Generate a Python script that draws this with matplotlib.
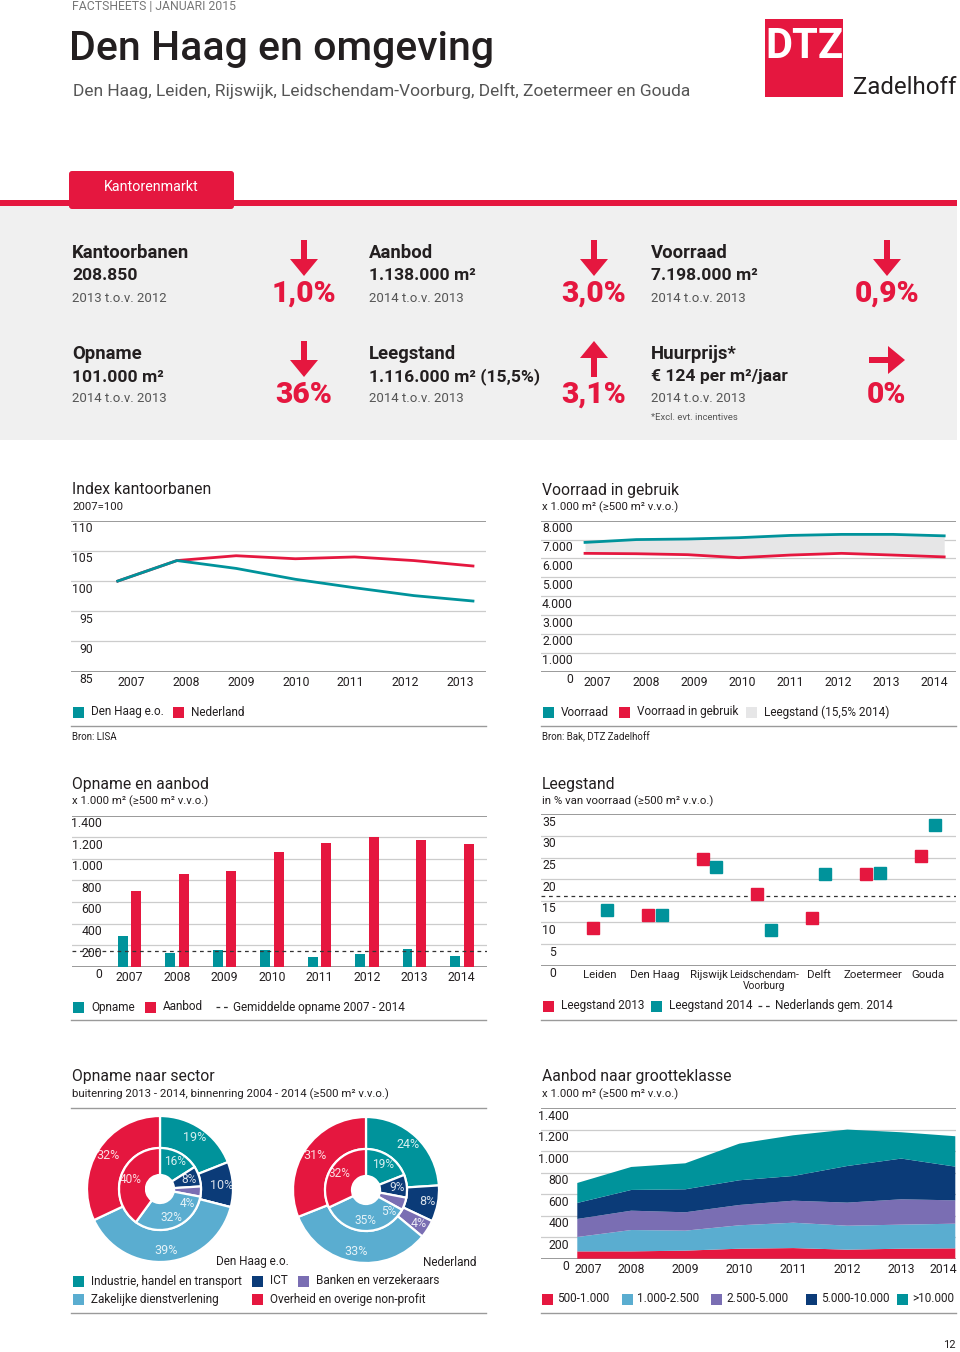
import numpy as np
import matplotlib.pyplot as plt
from matplotlib.patches import Rectangle, FancyArrow, FancyBboxPatch

plt.rcParams['font.family'] = ['Roboto', 'DejaVu Sans']

W, H = 960, 1352
TEAL = '#00939b'
RED = '#e5173f'
NAVY = '#0b3b78'
PURPLE = '#7a6eb3'
LBLUE = '#5aadd0'
LGRAY = '#e6e6e7'
PANEL = '#f0f0f0'
DARK = '#231f20'
MID = '#555555'
GRID = '#cccccc'
EDGE = '#9a9a9a'

# ---- data ----
jaren_idx = ['2007', '2008', '2009', '2010', '2011', '2012', '2013']
index_denhaag = [100, 103.4, 102.1, 100.3, 98.9, 97.6, 96.7]
index_nl = [100, 103.4, 104.2, 103.7, 104.0, 103.4, 102.5]

jaren = ['2007', '2008', '2009', '2010', '2011', '2012', '2013', '2014']
voorraad = [6850, 7000, 7030, 7100, 7220, 7275, 7275, 7198]
voorraad_gebruik = [6270, 6250, 6200, 6040, 6180, 6270, 6180, 6082]

opname = [284, 127, 151, 155, 87, 121, 161, 101]
aanbod = [702, 856, 890, 1063, 1147, 1202, 1175, 1138]
opname_gem = 150

steden = ['Leiden', 'Den Haag', 'Rijswijk', 'Leidschendam-\nVoorburg', 'Delft', 'Zoetermeer', 'Gouda']
leeg_2013 = [8.8, 11.8, 24.6, 16.6, 11.1, 21.2, 25.4]
leeg_2014 = [12.8, 11.8, 22.8, 8.3, 21.2, 21.5, 32.5]
leeg_nl = 16.0

sectoren = ['Industrie, handel en transport', 'ICT', 'Banken en verzekeraars',
            'Zakelijke dienstverlening', 'Overheid en overige non-profit']
dh_buiten = [19, 10, 0, 39, 32]
dh_binnen = [16, 8, 4, 32, 40]
nl_buiten = [24, 8, 4, 33, 31]
nl_binnen = [19, 9, 5, 35, 32]
sector_kleuren = [TEAL, NAVY, PURPLE, LBLUE, RED]

klassen = ['500-1.000', '1.000-2.500', '2.500-5.000', '5.000-10.000', '>10.000']
k_500 = [68, 68, 75, 93, 99, 84, 93, 96]
k_1000 = [134, 199, 186, 218, 236, 223, 224, 230]
k_2500 = [168, 180, 171, 189, 205, 215, 236, 217]
k_5000 = [149, 193, 214, 230, 230, 341, 379, 314]
k_10000 = [186, 214, 242, 341, 379, 339, 245, 283]
klasse_kleuren = [RED, LBLUE, PURPLE, NAVY, TEAL]

fig = plt.figure(figsize=(W / 100, H / 100), dpi=100)
bg = fig.add_axes([0, 0, 1, 1])
bg.set_xlim(0, W)
bg.set_ylim(H, 0)
bg.axis('off')


def add_ax(x0, y0, x1, y1):
    ax = fig.add_axes([x0 / W, 1 - y1 / H, (x1 - x0) / W, (y1 - y0) / H])
    ax.set_facecolor('none')
    for s in ax.spines.values():
        s.set_visible(False)
    ax.tick_params(left=False, labelleft=False, bottom=False)
    return ax


def yaxis(ax, ticks, labels, xr):
    for i, (t, lab) in enumerate(zip(ticks, labels)):
        edge = i == 0 or i == len(ticks) - 1
        ax.axhline(t, color=EDGE if edge else GRID, lw=1.4 if edge else 0.9, zorder=0)
        ax.annotate(lab, xy=(xr, t), xycoords=('axes fraction', 'data'), xytext=(0, -8),
                    textcoords='offset pixels', ha='right', va='center', fontsize=8.8, color=DARK)


def xlabels(ax, pos, labels, pad=3):
    ax.set_xticks(pos, labels)
    ax.tick_params(axis='x', length=0, pad=pad, labelsize=8.8, labelcolor=DARK)


def legend_item(x, y, color, text, sq=11):
    bg.add_patch(Rectangle((x, y - sq / 2), sq, sq, color=color, lw=0))
    bg.text(x + sq + 7, y, text, fontsize=8.5, color=DARK, va='center')


def titles(x, y, title, sub):
    bg.text(x, y, title, fontsize=11.3, color=DARK, va='center')
    bg.text(x, y + 17, sub, fontsize=8.2, color=DARK, va='center')


def arrow(x, y, direction):
    dx, dy = {'down': (0, 36), 'up': (0, -36), 'right': (36, 0)}[direction]
    bg.add_patch(FancyArrow(x - dx / 2, y - dy / 2, dx, dy, width=6, head_width=28,
                            head_length=17, length_includes_head=True, color=RED, lw=0))


# ---- header ----
bg.text(72, 7, 'FACTSHEETS | JANUARI 2015', fontsize=8.8, color='#777777', va='center')
bg.text(69, 49, 'Den Haag en omgeving', fontsize=29.5, fontweight='medium', color=DARK, va='center')
bg.text(73, 91, 'Den Haag, Leiden, Rijswijk, Leidschendam-Voorburg, Delft, Zoetermeer en Gouda',
        fontsize=12.5, color=MID, va='center')
bg.add_patch(Rectangle((765, 19), 78, 78, color=RED, lw=0))
bg.text(804, 46, 'DTZ', fontsize=30, color='white', fontweight='bold', ha='center', va='center')
bg.text(853, 88, 'Zadelhoff', fontsize=17.3, color=DARK, va='center')

bg.add_patch(Rectangle((0, 206), 957, 234, color=PANEL, lw=0))
bg.add_patch(FancyBboxPatch((72, 174), 159, 32, boxstyle='round,pad=3', color=RED, lw=0))
bg.add_patch(Rectangle((0, 200), 957, 6, color=RED, lw=0))
bg.text(104, 187, 'Kantorenmarkt', fontsize=10.3, color='white', va='center')

kpis = [
    (72, 253, 'Kantoorbanen', '208.850', '2013 t.o.v. 2012', 304, '1,0%', 'down'),
    (369, 253, 'Aanbod', '1.138.000 m²', '2014 t.o.v. 2013', 594, '3,0%', 'down'),
    (651, 253, 'Voorraad', '7.198.000 m²', '2014 t.o.v. 2013', 887, '0,9%', 'down'),
    (72, 354, 'Opname', '101.000 m²', '2014 t.o.v. 2013', 304, '36%', 'down'),
    (369, 354, 'Leegstand', '1.116.000 m² (15,5%)', '2014 t.o.v. 2013', 594, '3,1%', 'up'),
    (651, 354, 'Huurprijs*', '€ 124 per m²/jaar', '2014 t.o.v. 2013', 887, '0%', 'right'),
]
for x, y, t, v, s, px, pct, d in kpis:
    bg.text(x, y, t, fontsize=13.3, fontweight='bold', color=DARK, va='center')
    bg.text(x, y + 23, v, fontsize=12.6, fontweight='bold', color=DARK, va='center')
    bg.text(x, y + 45, s, fontsize=9.5, color=MID, va='center')
    bg.text(px, y + 41, pct, fontsize=21.5, fontweight='black', color=RED, ha='center', va='center')
    arrow(px, y + 5 if d != 'right' else y + 6, d)
bg.text(651, 417, '*Excl. evt. incentives', fontsize=6.8, color=MID, va='center')

# ---- Index kantoorbanen ----
titles(72, 490, 'Index kantoorbanen', '2007=100')
ax1 = add_ax(71, 520.7, 486, 671.7)
x7 = np.arange(len(jaren_idx))
ax1.plot(x7, index_nl, color=RED, lw=2)
ax1.plot(x7, index_denhaag, color=TEAL, lw=2)
ax1.set_xlim(-0.789, 6.22)
ax1.set_ylim(85, 110)
yaxis(ax1, [110, 105, 100, 95, 90, 85], ['110', '105', '100', '95', '90', '85'], 0.053)
xlabels(ax1, 0.236 + 0.924 * x7, jaren_idx)
legend_item(73, 712, TEAL, 'Den Haag e.o.')
legend_item(173, 712, RED, 'Nederland')
bg.plot([71, 486], [726, 726], color=EDGE, lw=1)
bg.text(72, 737, 'Bron: LISA', fontsize=7, color=DARK, va='center')

# ---- Voorraad in gebruik ----
titles(542, 490, 'Voorraad in gebruik', 'x 1.000 m² (≥500 m² v.v.o.)')
ax2 = add_ax(541, 520.7, 956, 671.7)
x8 = np.arange(len(jaren))
ax2.fill_between(x8, voorraad_gebruik, voorraad, color=LGRAY, lw=0)
ax2.plot(x8, voorraad, color=TEAL, lw=2)
ax2.plot(x8, voorraad_gebruik, color=RED, lw=2)
ax2.set_xlim(-0.858, 7.23)
ax2.set_ylim(0, 8000)
vt = list(range(8000, -1, -1000))
yaxis(ax2, vt, [f'{v // 1000}.000' if v else '0' for v in vt], 0.077)
xlabels(ax2, 0.248 + 0.9376 * x8, jaren)
legend_item(543, 712, TEAL, 'Voorraad')
legend_item(619, 712, RED, 'Voorraad in gebruik')
legend_item(746, 712, LGRAY, 'Leegstand (15,5% 2014)')
bg.plot([541, 956], [726, 726], color=EDGE, lw=1)
bg.text(542, 737, 'Bron: Bak, DTZ Zadelhoff', fontsize=7, color=DARK, va='center')

# ---- Opname en aanbod ----
titles(72, 784, 'Opname en aanbod', 'x 1.000 m² (≥500 m² v.v.o.)')
ax3 = add_ax(72, 815.7, 486.7, 966.7)
ax3.bar(x8 - 0.143, opname, width=0.21, color=TEAL, zorder=2)
ax3.bar(x8 + 0.143, aanbod, width=0.21, color=RED, zorder=2)
ax3.axhline(opname_gem, color='#333333', lw=0.9, ls=(0, (3, 3)), zorder=3)
ax3.set_xlim(-1.213, 7.526)
ax3.set_ylim(0, 1400)
ot = list(range(1400, -1, -200))
yaxis(ax3, ot, [f'{v:,}'.replace(',', '.') for v in ot], 0.073)
xlabels(ax3, x8, jaren)
legend_item(73, 1007, TEAL, 'Opname')
legend_item(145, 1007, RED, 'Aanbod')
bg.plot([216, 229], [1007, 1007], color='#333333', lw=0.9, ls=(0, (3, 3)))
bg.text(233, 1007, 'Gemiddelde opname 2007 - 2014', fontsize=8.5, color=DARK, va='center')
bg.plot([71, 486], [1020, 1020], color=EDGE, lw=1)

# ---- Leegstand ----
titles(542, 784, 'Leegstand', 'in % van voorraad (≥500 m² v.v.o.)')
ax4 = add_ax(541, 814.3, 956, 965.7)
xs = np.arange(len(steden))
ax4.axhline(leeg_nl, color='#333333', lw=0.9, ls=(0, (3, 3)), zorder=1)
ax4.plot(xs - 0.126, leeg_2013, 's', color=RED, ms=8.8, zorder=3)
ax4.plot(xs + 0.126, leeg_2014, 's', color=TEAL, ms=8.8, zorder=3)
ax4.set_xlim(-1.084, 6.516)
ax4.set_ylim(0, 35)
lt = list(range(35, -1, -5))
yaxis(ax4, lt, [str(v) for v in lt], 0.036)
xlabels(ax4, xs, steden, pad=3)
for lab in ax4.get_xticklabels():
    lab.set_fontsize(8.2)
    if '\n' in lab.get_text():
        lab.set_fontsize(7.4)
        lab.set_linespacing(1.1)
legend_item(543, 1006, RED, 'Leegstand 2013')
legend_item(651, 1006, TEAL, 'Leegstand 2014')
bg.plot([758, 771], [1006, 1006], color='#333333', lw=0.9, ls=(0, (3, 3)))
bg.text(775, 1006, 'Nederlands gem. 2014', fontsize=8.5, color=DARK, va='center')
bg.plot([541, 956], [1020, 1020], color=EDGE, lw=1)

# ---- Opname naar sector ----
titles(72, 1077, 'Opname naar sector', 'buitenring 2013 - 2014, binnenring 2004 - 2014 (≥500 m² v.v.o.)')
bg.plot([71, 486], [1108, 1108], color=EDGE, lw=1)


def donut(cx, cy, buiten, binnen, naam, nx):
    ax = add_ax(cx - 76, cy - 76, cx + 76, cy + 76)
    wp = dict(edgecolor='white', linewidth=1.6)
    ax.pie(buiten, radius=73, colors=sector_kleuren, startangle=90, counterclock=False,
           wedgeprops=dict(width=32, **wp))
    ax.pie(binnen, radius=41, colors=sector_kleuren, startangle=90, counterclock=False,
           wedgeprops=dict(width=27, **wp))
    ax.set_xlim(-76, 76)
    ax.set_ylim(-76, 76)
    for vals, r, fs in ((buiten, 62, 9), (binnen, 31, 8.6)):
        cum = np.cumsum([0] + list(vals))
        for i, v in enumerate(vals):
            if v == 0:
                continue
            th = np.radians((cum[i] + v / 2) * 3.6 + (24 if (r < 40 and v <= 5) else 0))
            ax.text(r * np.sin(th), r * np.cos(th), f'{v}%', ha='center', va='center',
                    fontsize=fs, color='white', alpha=0.85)
    bg.text(nx, 1262, naam, fontsize=8.5, color=DARK, va='center')


donut(160, 1189, dh_buiten, dh_binnen, 'Den Haag e.o.', 216)
donut(366, 1190, nl_buiten, nl_binnen, 'Nederland', 423)
legend_item(73, 1281, sector_kleuren[0], sectoren[0])
legend_item(252, 1281, sector_kleuren[1], sectoren[1])
legend_item(298, 1281, sector_kleuren[2], sectoren[2])
legend_item(73, 1299, sector_kleuren[3], sectoren[3])
legend_item(252, 1299, sector_kleuren[4], sectoren[4])
bg.plot([71, 486], [1313, 1313], color=EDGE, lw=1)

# ---- Aanbod naar grootteklasse ----
titles(542, 1077, 'Aanbod naar grootteklasse', 'x 1.000 m² (≥500 m² v.v.o.)')
ax6 = add_ax(541, 1108.3, 956, 1258.7)
ax6.stackplot(x8, k_500, k_1000, k_2500, k_5000, k_10000, colors=klasse_kleuren, lw=0, zorder=2)
ax6.set_xlim(-0.672, 7.013)
ax6.set_ylim(0, 1400)
yaxis(ax6, ot, [f'{v:,}'.replace(',', '.') for v in ot], 0.068)
xlabels(ax6, [0.2, 1, 2, 3, 4, 5, 6, 6.78], jaren)
kx = [542, 622, 711, 806, 897]
for x, c, k in zip(kx, klasse_kleuren, klassen):
    bg.add_patch(Rectangle((x, 1299 - 5.5), 11, 11, color=c, lw=0))
    bg.text(x + 15, 1299, k, fontsize=8.5, color=DARK, va='center')
bg.plot([541, 956], [1313, 1313], color=EDGE, lw=1)

bg.text(956, 1345, '12', fontsize=8, color=DARK, ha='right', va='center')

fig.savefig('out.png', dpi=100)
